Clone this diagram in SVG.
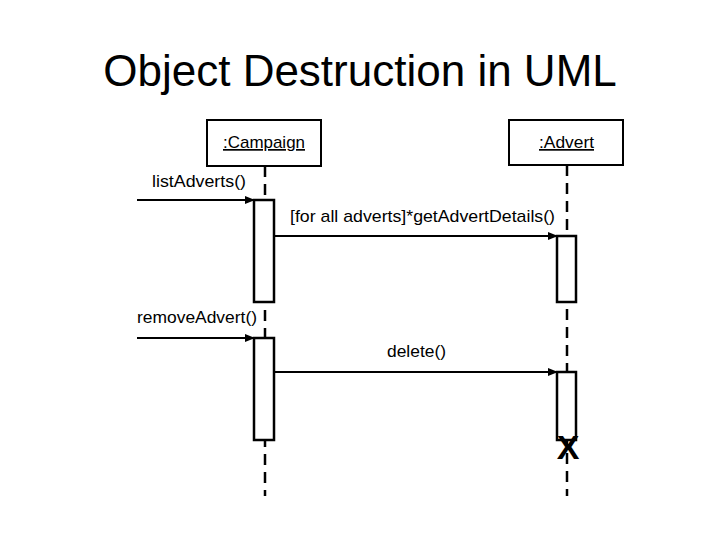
<svg xmlns="http://www.w3.org/2000/svg" width="720" height="540" viewBox="0 0 720 540">
<defs>
<marker id="arr" markerWidth="10" markerHeight="10" refX="9" refY="5" orient="auto" markerUnits="userSpaceOnUse">
<path d="M0,1 L10,5 L0,9 Z" fill="#000"/>
</marker>
<style>
.t{font-family:"Liberation Sans",Arial,sans-serif;fill:#000}
.box{fill:#fff;stroke:#000;stroke-width:2}
.life{stroke:#000;stroke-width:2.5;stroke-dasharray:11,7;fill:none}
.act{fill:#fff;stroke:#000;stroke-width:2.5}
.msg{stroke:#000;stroke-width:2;fill:none;marker-end:url(#arr)}
.lbl{font-size:17px}
</style>
</defs>
<rect width="720" height="540" fill="#fff"/>
<text class="t" x="360" y="86" font-size="44" text-anchor="middle">Object Destruction in UML</text>
<g id="campaign">
<line class="life" x1="265" y1="166" x2="265" y2="496"/>
<rect class="box" x="207" y="120" width="114" height="46"/>
<text class="t lbl" x="223" y="148" textLength="82" lengthAdjust="spacingAndGlyphs" text-decoration="underline">:Campaign</text>
</g>
<g id="advert">
<line class="life" x1="567" y1="165" x2="567" y2="496"/>
<rect class="box" x="509" y="120" width="114" height="45"/>
<text class="t lbl" x="539" y="148" textLength="55" lengthAdjust="spacingAndGlyphs" text-decoration="underline">:Advert</text>
</g>
<g id="activations">
<rect class="act" x="254" y="200" width="20" height="102"/>
<rect class="act" x="254" y="338" width="20" height="102"/>
<rect class="act" x="557" y="236" width="19" height="66"/>
<rect class="act" x="557" y="372" width="19" height="68"/>
</g>
<g id="connectors">
<line class="msg" x1="137" y1="200" x2="254" y2="200"/>
<line class="msg" x1="274" y1="236" x2="557" y2="236"/>
<line class="msg" x1="137" y1="338" x2="254" y2="338"/>
<line class="msg" x1="274" y1="372" x2="557" y2="372"/>
</g>
<g id="labels">
<text class="t lbl" x="152" y="187" textLength="94" lengthAdjust="spacingAndGlyphs">listAdverts()</text>
<text class="t lbl" x="290" y="222" textLength="265" lengthAdjust="spacingAndGlyphs">[for all adverts]*getAdvertDetails()</text>
<text class="t lbl" x="137" y="323" textLength="120" lengthAdjust="spacingAndGlyphs">removeAdvert()</text>
<text class="t lbl" x="387" y="357" textLength="59" lengthAdjust="spacingAndGlyphs">delete()</text>
</g>
<g id="destroy">
<text class="t" x="568" y="459" font-size="34" font-weight="bold" text-anchor="middle">X</text>
</g>
</svg>
